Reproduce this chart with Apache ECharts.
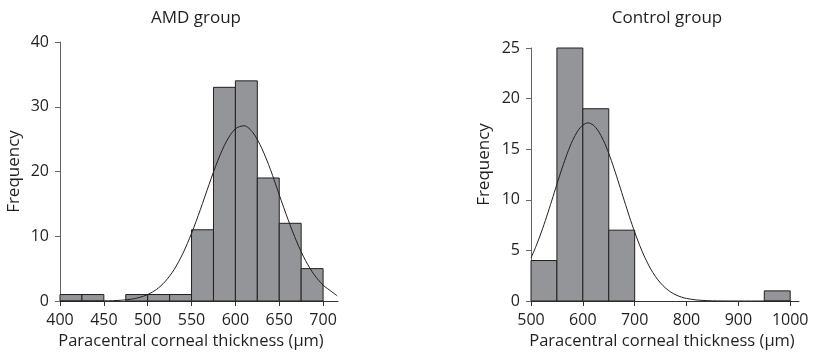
<!DOCTYPE html>
<html>
<head>
<meta charset="utf-8">
<script src="https://cdn.jsdelivr.net/npm/echarts@6/dist/echarts.min.js"></script>
<style>
  html, body { margin: 0; padding: 0; background: #fff; }
  #chart { width: 813px; height: 358px; }
</style>
</head>
<body>
<div id="chart"></div>
<script>
// AMD group histogram (bin width 25)
const amdBinStart = [400, 425, 450, 475, 500, 525, 550, 575, 600, 625, 650, 675];
const amdCounts = [1, 1, 0, 1, 1, 1, 11, 33, 34, 19, 12, 5];
const amdBinWidth = 25;
// fitted normal curve
const amdCurveX = [400, 420, 440, 450, 460, 470, 480, 490, 500, 510, 520, 530, 540, 550, 560, 570, 580, 590, 600, 610, 620, 630, 640, 650, 660, 670, 680, 690, 700, 710, 716];
const amdCurveY = [0, 0, 0, 0.02, 0.05, 0.12, 0.26, 0.52, 0.99, 1.78, 3.02, 4.83, 7.31, 10.44, 14.1, 18.0, 21.7, 24.7, 26.6, 27.07, 26.0, 23.6, 20.3, 16.4, 12.6, 9.12, 6.24, 4.03, 2.46, 1.42, 0.8];
const amdXTicks = [400, 450, 500, 550, 600, 650, 700];
const amdYTicks = [0, 10, 20, 30, 40];

// Control group histogram (bin width 50)
const ctrlBinStart = [500, 550, 600, 650, 700, 750, 800, 850, 900, 950];
const ctrlCounts = [4, 25, 19, 7, 0, 0, 0, 0, 0, 1];
const ctrlBinWidth = 50;
const ctrlCurveX = [500, 510, 520, 530, 540, 550, 560, 570, 580, 590, 600, 610, 620, 630, 640, 650, 660, 670, 680, 690, 700, 710, 720, 730, 740, 750, 760, 770, 780, 790, 800, 820, 840, 860, 880, 900, 950, 1000];
const ctrlCurveY = [4.26, 5.45, 6.81, 8.31, 9.91, 11.54, 13.13, 14.59, 15.84, 16.79, 17.39, 17.6, 17.39, 16.79, 15.84, 14.59, 13.13, 11.54, 9.91, 8.31, 6.81, 5.45, 4.26, 3.25, 2.43, 1.77, 1.26, 0.87, 0.59, 0.39, 0.25, 0.1, 0.036, 0.012, 0.003, 0, 0, 0];
const ctrlXTicks = [500, 600, 700, 800, 900, 1000];
const ctrlYTicks = [0, 5, 10, 15, 20, 25];

const textColor = '#231f20';
const fontFamily = '"Open Sans", sans-serif';

function binData (starts, counts, width) {
  const out = [];
  for (let i = 0; i < starts.length; i++) {
    if (counts[i] > 0) out.push([starts[i], starts[i] + width, counts[i]]);
  }
  return out;
}

function curveData (xs, ys) {
  return xs.map(function (x, i) { return [x, ys[i]]; });
}

function renderBin (params, api) {
  const p0 = api.coord([api.value(0), api.value(2)]);
  const p1 = api.coord([api.value(1), 0]);
  return {
    type: 'rect',
    shape: { x: p0[0], y: p0[1], width: p1[0] - p0[0], height: p1[1] - p0[1] },
    style: { fill: '#939598', stroke: '#231f20', lineWidth: 1 }
  };
}

function xAxisOpt (idx, min, max, ticks, pad) {
  return {
    type: 'value', gridIndex: idx, min: min, max: max,
    name: 'Paracentral corneal thickness (μm)',
    nameLocation: 'middle', nameGap: 31,
    nameTextStyle: { color: textColor, fontSize: 16.5, fontFamily: fontFamily, padding: [0, pad, 0, 0] },
    axisLine: { show: true, onZero: false, lineStyle: { color: '#333', width: 1 } },
    axisTick: { show: true, length: 5, customValues: ticks, lineStyle: { color: '#333' } },
    axisLabel: {
      customValues: ticks, margin: 11, color: textColor, fontSize: 16, fontFamily: fontFamily,
      formatter: function (v) { return String(v); }
    },
    splitLine: { show: false }
  };
}

function yAxisOpt (idx, max, ticks, gap, shift) {
  return {
    type: 'value', gridIndex: idx, min: 0, max: max,
    name: 'Frequency',
    nameLocation: 'middle', nameGap: gap,
    nameTextStyle: { color: textColor, fontSize: 17, fontFamily: fontFamily, padding: [0, 0, 0, shift] },
    axisLine: { show: true, lineStyle: { color: '#666', width: 1 } },
    axisTick: { show: true, length: 5, customValues: ticks, lineStyle: { color: '#666' } },
    axisLabel: { customValues: ticks, margin: 11, color: textColor, fontSize: 16, fontFamily: fontFamily },
    splitLine: { show: false }
  };
}

const chart = echarts.init(document.getElementById('chart'));
chart.setOption({
  animation: false,
  backgroundColor: '#fff',
  title: [
    { text: 'AMD group', left: 191, top: 5, textAlign: 'center',
      textStyle: { color: textColor, fontSize: 17, fontWeight: 'normal', fontFamily: fontFamily } },
    { text: 'Control group', left: 662, top: 5, textAlign: 'center',
      textStyle: { color: textColor, fontSize: 17, fontWeight: 'normal', fontFamily: fontFamily } }
  ],
  grid: [
    { left: 60, right: 475, top: 42, bottom: 57 },
    { left: 531, right: 14, top: 48, bottom: 57 }
  ],
  xAxis: [
    xAxisOpt(0, 400, 717, amdXTicks, 16),
    xAxisOpt(1, 500, 1017, ctrlXTicks, 6)
  ],
  yAxis: [
    yAxisOpt(0, 40, amdYTicks, 37, 0),
    yAxisOpt(1, 25, ctrlYTicks, 38, 20)
  ],
  series: [
    {
      type: 'custom', xAxisIndex: 0, yAxisIndex: 0,
      renderItem: renderBin,
      encode: { x: [0, 1], y: 2 },
      data: binData(amdBinStart, amdCounts, amdBinWidth)
    },
    {
      type: 'line', xAxisIndex: 0, yAxisIndex: 0, z: 5,
      smooth: 0.3, showSymbol: false, silent: true,
      lineStyle: { color: '#231f20', width: 1 },
      data: curveData(amdCurveX, amdCurveY)
    },
    {
      type: 'custom', xAxisIndex: 1, yAxisIndex: 1,
      renderItem: renderBin,
      encode: { x: [0, 1], y: 2 },
      data: binData(ctrlBinStart, ctrlCounts, ctrlBinWidth)
    },
    {
      type: 'line', xAxisIndex: 1, yAxisIndex: 1, z: 5,
      smooth: 0.3, showSymbol: false, silent: true,
      lineStyle: { color: '#231f20', width: 1 },
      data: curveData(ctrlCurveX, ctrlCurveY)
    }
  ]
});
</script>
</body>
</html>
